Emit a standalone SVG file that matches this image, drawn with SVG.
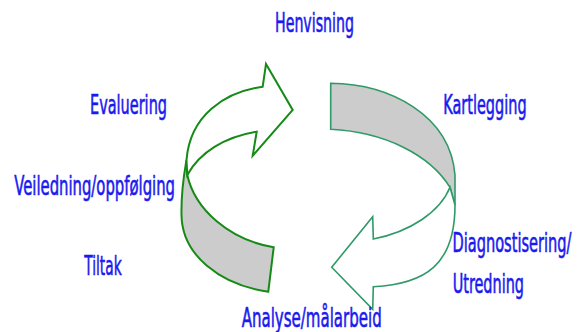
<svg xmlns="http://www.w3.org/2000/svg" width="580" height="332" viewBox="0 0 580 332">
<style>
  .lbl { font-family: "DejaVu Sans Condensed", "DejaVu Sans", sans-serif; font-size: 26px; fill: #1a1af0; stroke: #1a1af0; stroke-width: 0.6; }
  .la { stroke: #168a16; stroke-width: 2; stroke-linejoin: miter; }
  .ra { stroke: #2f9a68; stroke-width: 1.6; stroke-linejoin: miter; }
  .back { fill: #cccccc; }
  .front { fill: #ffffff; }
</style>
<rect width="580" height="332" fill="#ffffff"/>
<g id="connectors">
  <g id="arrow-left">
    <path class="la back" d="M187.3,175 C195,210 230,240 273.7,247.3 L268.3,291.7 C220,285 182,255 181.5,215 C181,190 184,175 186.5,160 Z"/>
    <path class="la front" d="M187.3,175 C200,152 225,137 256.7,131.7 L252.7,155.7 L292.7,110 L266,64 L262.7,86.7 C225,92 190,115 186.5,160 Z"/>
  </g>
  <g id="arrow-right">
    <path class="ra back" d="M330.7,83.3 C390,84 450,115 455,175 L455,205 L450,187.3 C430,155 385,132 330.7,129.3 Z"/>
    <path class="ra front" d="M450,187.3 C440,212 410,232 373.3,239 L372.7,216.7 L331.7,267.3 L372.7,309.3 L373.3,286.7 C425,284 455,265 455,205 Z"/>
  </g>
</g>
<g id="henvisning"><text class="lbl" x="275" y="32.3" textLength="79" lengthAdjust="spacingAndGlyphs">Henvisning</text></g>
<g id="kartlegging"><text class="lbl" x="443.3" y="114" textLength="83.3" lengthAdjust="spacingAndGlyphs">Kartlegging</text></g>
<g id="diagnostisering"><text class="lbl" x="452.5" y="252.3" textLength="119" lengthAdjust="spacingAndGlyphs">Diagnostisering/</text><text class="lbl" x="452.7" y="293.3" textLength="71.3" lengthAdjust="spacingAndGlyphs">Utredning</text></g>
<g id="analyse"><text class="lbl" x="241.7" y="326.5" textLength="140" lengthAdjust="spacingAndGlyphs">Analyse/målarbeid</text></g>
<g id="tiltak"><text class="lbl" x="84.3" y="275" textLength="37.3" lengthAdjust="spacingAndGlyphs">Tiltak</text></g>
<g id="veiledning"><text class="lbl" x="14.3" y="195" textLength="160.7" lengthAdjust="spacingAndGlyphs">Veiledning/oppfølging</text></g>
<g id="evaluering"><text class="lbl" x="90" y="114" textLength="77" lengthAdjust="spacingAndGlyphs">Evaluering</text></g>
</svg>
